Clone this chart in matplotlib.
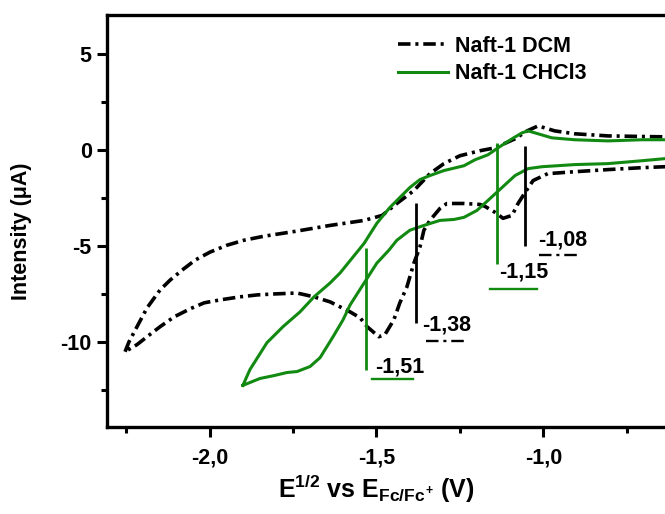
import matplotlib
matplotlib.use('Agg')
import matplotlib.pyplot as plt
from matplotlib.ticker import FixedLocator, FixedFormatter, MultipleLocator

plt.rcParams['font.family'] = ['Liberation Sans', 'DejaVu Sans']
plt.rcParams['font.weight'] = 'bold'
plt.rcParams['mathtext.fontset'] = 'custom'
plt.rcParams['mathtext.rm'] = 'Liberation Sans:bold'
plt.rcParams['mathtext.it'] = 'Liberation Sans:bold'
plt.rcParams['mathtext.bf'] = 'Liberation Sans:bold'
plt.rcParams['lines.scale_dashes'] = False

# ---- data ----
dcm_x = [-2.253, -2.241, -2.211, -2.187, -2.148, -2.118, -2.082, -2.043, -1.999, -1.948,
         -1.897, -1.837, -1.744, -1.639, -1.537, -1.483, -1.439, -1.388, -1.340, -1.298,
         -1.250, -1.190, -1.145, -1.085, -1.049, -1.016, -0.966, -0.906, -0.807, -0.636,
         -0.580,
         -0.580, -0.636, -0.705, -0.807, -0.906, -0.987, -1.031, -1.055, -1.076, -1.094,
         -1.121, -1.145, -1.175, -1.190, -1.238, -1.289, -1.310, -1.340, -1.358, -1.370,
         -1.388, -1.409, -1.430, -1.448, -1.475, -1.493, -1.528, -1.549, -1.579, -1.639,
         -1.687, -1.738, -1.807, -1.858, -1.909, -1.969, -2.016, -2.058, -2.106, -2.148,
         -2.187, -2.217, -2.253]
dcm_y = [-10.49, -9.97, -8.99, -8.21, -7.28, -6.77, -6.25, -5.73, -5.32, -4.96,
         -4.70, -4.49, -4.24, -3.93, -3.67, -3.41, -2.79, -2.12, -1.24, -0.72,
         -0.31, -0.05, 0.10, 0.57, 0.98, 1.24, 0.98, 0.83, 0.72, 0.67,
         0.65,
         -0.85, -0.88, -0.93, -1.03, -1.14, -1.24, -1.60, -2.22, -2.79, -3.41,
         -3.56, -3.25, -2.94, -2.84, -2.79, -2.79, -3.05, -3.67, -4.18, -5.06,
         -5.89, -7.13, -7.95, -8.83, -9.61, -9.71, -9.19, -8.73, -8.42, -7.90,
         -7.64, -7.44, -7.49, -7.54, -7.64, -7.80, -7.95, -8.26, -8.68, -9.19,
         -9.71, -10.12, -10.49]

chcl3_x = [-1.900, -1.879, -1.849, -1.807, -1.768, -1.738, -1.699, -1.669, -1.630, -1.600,
           -1.579, -1.537, -1.499, -1.463, -1.439, -1.400, -1.358, -1.310, -1.268, -1.238,
           -1.199, -1.166, -1.124, -1.085, -1.046, -1.004, -0.906, -0.807, -0.705, -0.636,
           -0.591,
           -0.591, -0.636, -0.705, -0.807, -0.906, -0.975, -1.016, -1.046, -1.064, -1.094,
           -1.136, -1.166, -1.205, -1.238, -1.298, -1.340, -1.370, -1.400, -1.430, -1.460,
           -1.499, -1.537, -1.573, -1.609, -1.639, -1.687, -1.729, -1.780, -1.828,
           -1.879, -1.900]
chcl3_y = [-12.24, -12.09, -11.88, -11.73, -11.57, -11.52, -11.26, -10.80, -9.71, -8.83,
           -8.06, -6.92, -5.89, -5.22, -4.70, -4.18, -3.93, -3.67, -3.62, -3.51,
           -3.15, -2.63, -1.96, -1.34, -0.98, -0.88, -0.77, -0.72, -0.57, -0.46,
           -0.41,
           0.52, 0.52, 0.52, 0.46, 0.52, 0.62, 0.83, 0.98, 0.88, 0.57,
           0.10, -0.26, -0.52, -0.83, -1.08, -1.34, -1.55, -1.96, -2.48, -3.00,
           -3.82, -4.86, -5.63, -6.40, -6.92, -7.64, -8.42, -9.19, -10.02,
           -11.42, -12.24]

series_names = ['Naft-1 DCM', 'Naft-1 CHCl3']

peak_series = [1, 0, 1, 0]
peak_x = [-1.530, -1.382, -1.138, -1.055]
peak_ymin = [-11.42, -8.99, -5.94, -5.01]
peak_ymax = [-5.11, -2.79, 0.36, 0.21]
peak_labels = ['-1,51', '-1,38', '-1,15', '-1,08']
label_x = [-1.505, -1.364, -1.133, -1.016]
label_y = [-11.26, -9.09, -6.35, -4.70]
underline_x0 = [-1.513, -1.352, -1.160, -1.013]
underline_x1 = [-1.391, -1.238, -1.019, -0.900]
underline_y = [-11.93, -9.92, -7.23, -5.48]

xticks_major = [-2.0, -1.5, -1.0]
xtick_labels = ['-2,0', '-1,5', '-1,0']
yticks_major = [5, 0, -5, -10]
ytick_labels = ['5', '0', '-5', '-10']

# ---- style ----
GREEN = '#128a12'
colors = ['black', GREEN]
DASHDOT = (0, (9, 3.5, 2.2, 3.5))
styles = [DASHDOT, '-']
widths = [2.6, 2.2]
FS = 15.5

fig = plt.figure(figsize=(6.65, 5.14), dpi=100)
W, H = 665, 514
ax_left, ax_right, ax_top, ax_bottom = 107, 677, 15, 427
ax = fig.add_axes([ax_left / W, 1 - ax_bottom / H, (ax_right - ax_left) / W, (ax_bottom - ax_top) / H])

ax.plot(dcm_x, dcm_y, color=colors[0], linestyle=styles[0], lw=widths[0], label=series_names[0])
ax.plot(chcl3_x, chcl3_y, color=colors[1], linestyle=styles[1], lw=widths[1], label=series_names[1])

for i in range(len(peak_x)):
    s = peak_series[i]
    ax.plot([peak_x[i], peak_x[i]], [peak_ymin[i], peak_ymax[i]], color=colors[s], lw=2.0,
            solid_capstyle='butt')
    ax.text(label_x[i], label_y[i], peak_labels[i], fontsize=FS, fontweight='bold',
            ha='left', va='center', color='black')
    ax.plot([underline_x0[i], underline_x1[i]], [underline_y[i], underline_y[i]],
            color=colors[s], linestyle=styles[s], lw=1.7)

ax.set_xlim(-2.307, -0.60)
ax.set_ylim(-14.4, 7.0)

ax.xaxis.set_major_locator(FixedLocator(xticks_major))
ax.xaxis.set_major_formatter(FixedFormatter(xtick_labels))
ax.xaxis.set_minor_locator(MultipleLocator(0.25))
ax.yaxis.set_major_locator(FixedLocator(yticks_major))
ax.yaxis.set_major_formatter(FixedFormatter(ytick_labels))
ax.yaxis.set_minor_locator(MultipleLocator(2.5))

for sp in ax.spines.values():
    sp.set_linewidth(2.4)
ax.tick_params(axis='both', which='major', direction='out', length=7, width=2.2, labelsize=FS)
ax.tick_params(axis='both', which='minor', direction='out', length=4.5, width=2.2)
ax.tick_params(axis='x', which='major', pad=8)
ax.tick_params(axis='y', which='major', pad=4)
ax.tick_params(top=False, right=False, which='both')
for lab in ax.get_xticklabels() + ax.get_yticklabels():
    lab.set_fontweight('bold')

ax.set_ylabel('Intensity (\u03bcA)', fontsize=FS, fontweight='bold')
ax.yaxis.set_label_coords(-0.132, 0.475)
ax.set_xlabel(r'E$^{1/2}$ vs E$_{Fc/Fc^{+}}$ (V)', fontsize=18, fontweight='bold')
ax.xaxis.set_label_coords((376 - ax_left) / (ax_right - ax_left), -0.112)

leg = ax.legend(loc='upper left', bbox_to_anchor=(398 / W, 1 - 36 / H), bbox_transform=fig.transFigure,
                frameon=False, fontsize=FS, handlelength=2.3, handletextpad=0.35,
                labelspacing=0.3, borderpad=0, borderaxespad=0)
for t in leg.get_texts():
    t.set_fontweight('bold')

fig.savefig('out.png', dpi=100)
